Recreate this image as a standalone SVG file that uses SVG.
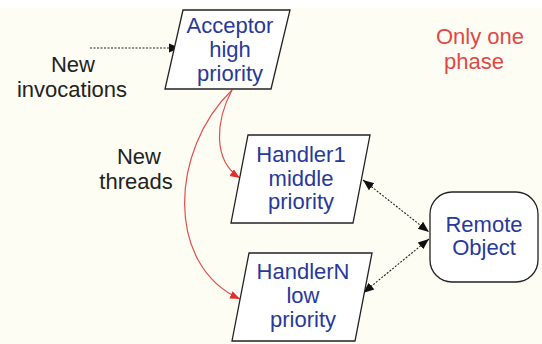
<svg xmlns="http://www.w3.org/2000/svg" width="542" height="344" viewBox="0 0 542 344">
<defs>
<style>
.box{fill:#ffffff;stroke:#222;stroke-width:1.3}
.bt{font-family:"Liberation Sans",Arial,sans-serif;font-size:22px;fill:#27399a;text-anchor:middle}
.lt{font-family:"Liberation Sans",Arial,sans-serif;font-size:22px;fill:#222;text-anchor:middle}
.rt{font-family:"Liberation Sans",Arial,sans-serif;font-size:22px;fill:#e04848;text-anchor:middle}
.dot{fill:none;stroke:#222;stroke-width:1.1;stroke-dasharray:2 1.5}
.red{fill:none;stroke:#e05050;stroke-width:1.2}
</style>
<marker id="ah" viewBox="0 0 10 10" refX="10" refY="5" markerWidth="11" markerHeight="11" markerUnits="userSpaceOnUse" orient="auto-start-reverse"><path d="M0,1 L10,5 L0,9 Z" fill="#111"/></marker>
<marker id="ahr" viewBox="0 0 10 10" refX="10" refY="5" markerWidth="10" markerHeight="10" markerUnits="userSpaceOnUse" orient="auto"><path d="M0,1 L10,5 L0,9 Z" fill="#e03030"/></marker>
</defs>
<rect x="0" y="0" width="542" height="344" fill="#fdfdf4"/>
<rect x="0" y="0" width="542" height="8" fill="#ffffff"/>
<g id="labels">
<text class="lt" x="73" y="72">New</text>
<text class="lt" x="72" y="97">invocations</text>
<text class="lt" x="139" y="164">New</text>
<text class="lt" x="136" y="189">threads</text>
<text class="rt" x="480" y="44">Only one</text>
<text class="rt" x="474" y="69">phase</text>
</g>
<g id="connectors">
<path class="dot" d="M90 48 L180 48" marker-end="url(#ah)"/>
<path class="red" d="M232 90 C216 120 212 160 240 178" marker-end="url(#ahr)"/>
<path class="red" d="M232 90 C170 150 165 265 240 299" marker-end="url(#ahr)"/>
<path class="dot" d="M363 180 L429 232" marker-start="url(#ah)" marker-end="url(#ah)"/>
<path class="dot" d="M429 239 L363 293" marker-start="url(#ah)" marker-end="url(#ah)"/>
</g>
<g id="acceptor">
<polygon class="box" points="183,10 290,10 271,89 165,89"/>
<text class="bt" x="230" y="33">Acceptor</text>
<text class="bt" x="230" y="57">high</text>
<text class="bt" x="230" y="81">priority</text>
</g>
<g id="handler1">
<polygon class="box" points="248,135 370,135 353,223 231,223"/>
<text class="bt" x="301" y="162">Handler1</text>
<text class="bt" x="301" y="186">middle</text>
<text class="bt" x="301" y="209">priority</text>
</g>
<g id="handlerN">
<polygon class="box" points="249,253 372,253 355,341 232,341"/>
<text class="bt" x="303" y="279">HandlerN</text>
<text class="bt" x="303" y="303">low</text>
<text class="bt" x="303" y="327">priority</text>
</g>
<g id="remote">
<rect class="box" x="430" y="192" width="108" height="90" rx="22" ry="22"/>
<text class="bt" x="484" y="232">Remote</text>
<text class="bt" x="484" y="255">Object</text>
</g>
</svg>
